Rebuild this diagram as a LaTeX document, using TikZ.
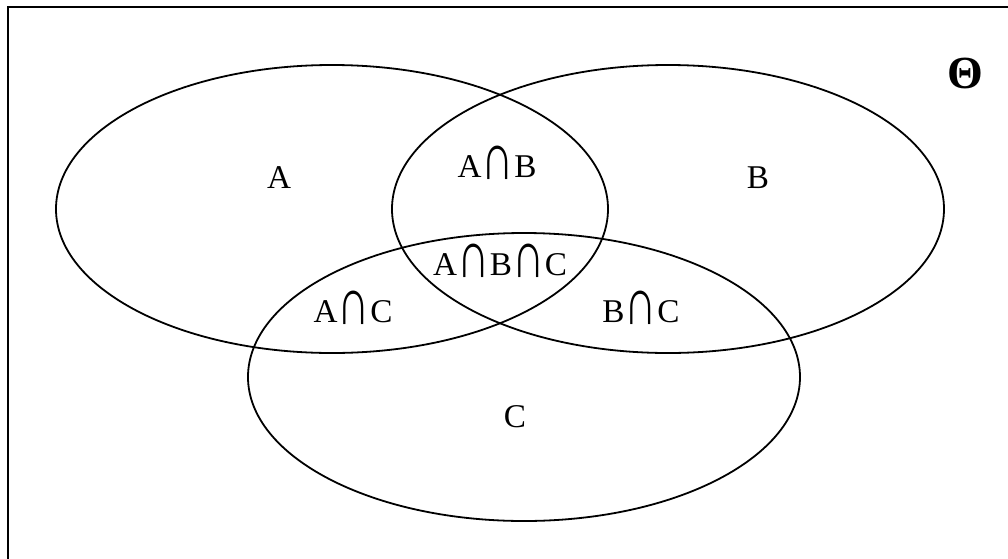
\documentclass[tikz,border=0pt]{standalone}
\usepackage{fontspec}
\usepackage{graphicx}
\setmainfont{Liberation Serif}
\usetikzlibrary{positioning}

% tall thin intersection sign
\newcommand{\tallcap}{\kern0.1pt\raisebox{-1.2pt}{\scalebox{1.35}[2.0]{∩}}\kern0.1pt}

\begin{document}
\begin{tikzpicture}[
    x=0.5pt,y=-0.5pt,
    set/.style={line width=0.9pt},
    setlabel/.style={anchor=base,inner sep=0pt,font=\fontsize{16.6}{20}\selectfont}
  ]
  \useasboundingbox (0,0) rectangle (1008,558);

  % frame
  \coordinate (frame-bl) at (8,570);
  \coordinate (frame-tl) at (8,7);
  \coordinate (frame-tr) at (1020,7);
  \draw[line width=1pt] (frame-bl) -- (frame-tl) -- (frame-tr);

  % sets
  \coordinate (set-a) at (332,209);
  \coordinate (set-b) at (668,209);
  \coordinate (set-c) at (524,377);
  \foreach \s in {set-a,set-b,set-c}
    \draw[set] (\s) ellipse[x radius=276,y radius=144];

  % labels
  \node[setlabel] (lab-a)   at (279,188) {A};
  \node[setlabel] (lab-b)   at (758,188) {B};
  \node[setlabel] (lab-c)   at (515,427) {C};
  \node[setlabel] (lab-ab)  at (497,177) {A\tallcap B};
  \node[setlabel] (lab-ac)  at (353,322) {A\tallcap C};
  \node[setlabel] (lab-bc)  at (641,322) {B\tallcap C};
  \node[setlabel] (lab-abc) at (500,275) {A\tallcap B\tallcap C};
  \node[setlabel,font=\fontsize{23}{27}\selectfont\bfseries] (theta) at (965,88) {Θ};
\end{tikzpicture}
\end{document}
